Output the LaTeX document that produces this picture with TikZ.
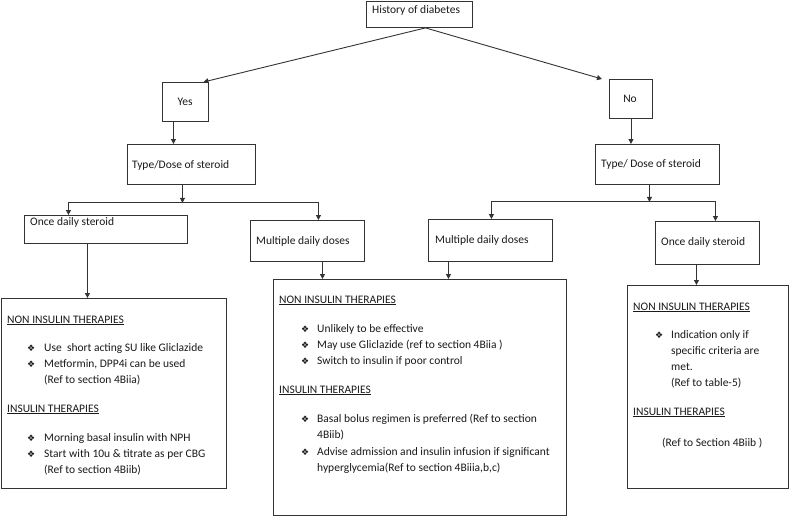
\documentclass[tikz,border=0pt]{standalone}
\usepackage{fontspec}
\setmainfont{Carlito}
\newfontfamily\symf{DejaVu Sans}
\usetikzlibrary{arrows.meta,calc}
\definecolor{ln}{HTML}{333333}
\definecolor{tx}{HTML}{1A1A1A}
\newcommand{\bul}{{\symf\fontsize{9}{9}\selectfont ❖}}
\begin{document}
\begin{tikzpicture}[x=1pt,y=-1pt,
  box/.style={draw=ln,line width=0.9pt,rectangle,inner sep=0pt,anchor=north west},
  arr/.style={draw=ln,line width=0.9pt,-{Triangle[length=5pt,width=5pt]}},
  lnk/.style={draw=ln,line width=0.9pt},
  lbl/.style={anchor=west,inner sep=0pt,text=tx,font=\fontsize{11.5}{16}\selectfont},
  tl/.style={anchor=base west,inner sep=0pt,text=tx,font=\fontsize{11.5}{16}\selectfont},
  bl/.style={anchor=base west,inner sep=0pt,text=tx}]
\useasboundingbox (0,0) rectangle (789,516);
\fill[white] (0,0) rectangle (789,516);
% boxes
\node[box,minimum width=106pt,minimum height=26pt] (hist) at (366,1) {};
\node[box,minimum width=46pt,minimum height=39pt] (yes) at (162,82) {};
\node[box,minimum width=43pt,minimum height=39pt] (no) at (609,79) {};
\node[box,minimum width=128pt,minimum height=40pt] (tyl) at (127,144) {};
\node[box,minimum width=124pt,minimum height=40pt] (tyr) at (595,144) {};
\node[box,minimum width=163pt,minimum height=28pt] (oncel) at (24,215) {};
\node[box,minimum width=114pt,minimum height=41pt] (multl) at (250,220) {};
\node[box,minimum width=124pt,minimum height=42pt] (multr) at (428,219) {};
\node[box,minimum width=104pt,minimum height=43pt] (oncer) at (655,221) {};
\node[box,minimum width=225pt,minimum height=190pt] (bigl) at (1,298) {};
\node[box,minimum width=293pt,minimum height=236pt] (bigm) at (273,279) {};
\node[box,minimum width=161pt,minimum height=203pt] (bigr) at (627,285) {};
% box labels
\node[lbl] (thist) at (372,10) {History of diabetes};
\node[lbl,anchor=center] (tyes) at (185,102) {Yes};
\node[lbl,anchor=center] (tno) at (630,99) {No};
\node[lbl] (ttyl) at (132,165) {Type/Dose of steroid};
\node[lbl] (ttyr) at (601,164) {Type/ Dose of steroid};
\node[lbl] (toncel) at (30,222) {Once daily steroid};
\node[lbl] (tmultl) at (256,241) {Multiple daily doses};
\node[lbl] (tmultr) at (435,240) {Multiple daily doses};
\node[lbl] (toncer) at (661,242) {Once daily steroid};
% connectors
\draw[arr] ([xshift=6pt]hist.south) -- ([xshift=18pt]yes.north);
\draw[arr] ([xshift=6pt]hist.south) -- ([xshift=-7pt]no.north west);
\draw[arr] ([xshift=-12pt]yes.south) coordinate (a1) -- (a1 |- tyl.north);
\draw[arr] ([xshift=0pt]no.south) coordinate (a2) -- (a2 |- tyr.north);
\draw[arr] ([xshift=-9pt]tyl.south) coordinate (a3) -- ++(0,18) coordinate (jl);
\draw[arr] (jl) -| ([xshift=-37.5pt]oncel.north);
\draw[arr] (jl) -| ([xshift=11pt]multl.north);
\draw[arr] ([xshift=-8pt]tyr.south) coordinate (a4) -- ++(0,17) coordinate (jr);
\draw[arr] (jr) -| ([xshift=1pt]multr.north);
\draw[arr] (jr) -| ([xshift=8pt]oncer.north);
\draw[arr] ([xshift=15pt]multl.south) coordinate (a5) -- (a5 |- bigm.north);
\draw[arr] ([xshift=-42pt]multr.south) coordinate (a6) -- (a6 |- bigm.north);
\draw[arr] ([xshift=-18.5pt]oncel.south) coordinate (a7) -- (a7 |- bigl.north);
\draw[arr] ([xshift=-11pt]oncer.south) coordinate (a8) -- (a8 |- bigr.north);
% left big box text
\node[tl] (l1) at (7,323) {\underline{NON INSULIN THERAPIES}};
\node[bl] (lb1) at (27,351) {\bul};
\node[tl] (l2) at (44,351) {Use\ \ short acting SU like Gliclazide};
\node[bl] (lb2) at (27,367) {\bul};
\node[tl] (l3) at (44,367) {Metformin, DPP4i can be used};
\node[tl] (l4) at (44,383) {(Ref to section 4Biia)};
\node[tl] (l5) at (7,412) {\underline{INSULIN THERAPIES}};
\node[bl] (lb3) at (27,441) {\bul};
\node[tl] (l6) at (44,441) {Morning basal insulin with NPH};
\node[bl] (lb4) at (27,457) {\bul};
\node[tl] (l7) at (44,457) {Start with 10u \& titrate as per CBG};
\node[tl] (l8) at (44,473) {(Ref to section 4Biib)};
% middle big box text
\node[tl] (m1) at (279,303) {\underline{NON INSULIN THERAPIES}};
\node[bl] (mb1) at (301,332) {\bul};
\node[tl] (m2) at (317,332) {Unlikely to be effective};
\node[bl] (mb2) at (301,348) {\bul};
\node[tl] (m3) at (317,348) {May use Gliclazide (ref to section 4Biia )};
\node[bl] (mb3) at (301,364) {\bul};
\node[tl] (m4) at (317,364) {Switch to insulin if poor control};
\node[tl] (m5) at (279,393) {\underline{INSULIN THERAPIES}};
\node[bl] (mb4) at (301,422) {\bul};
\node[tl] (m6) at (317,422) {Basal bolus regimen is preferred (Ref to section};
\node[tl] (m7) at (317,438) {4Biib)};
\node[bl] (mb5) at (301,455) {\bul};
\node[tl] (m8) at (317,455) {Advise admission and insulin infusion if significant};
\node[tl] (m9) at (317,471) {hyperglycemia(Ref to section 4Biiia,b,c)};
% right big box text
\node[tl] (r1) at (633,310) {\underline{NON INSULIN THERAPIES}};
\node[bl] (rb1) at (655,338) {\bul};
\node[tl] (r2) at (671,338) {Indication only if};
\node[tl] (r3) at (671,354) {specific criteria are};
\node[tl] (r4) at (671,370) {met.};
\node[tl] (r5) at (671,386) {(Ref to table-5)};
\node[tl] (r6) at (633,415) {\underline{INSULIN THERAPIES}};
\node[tl] (r7) at (662,446) {(Ref to Section 4Biib )};
\end{tikzpicture}
\end{document}
